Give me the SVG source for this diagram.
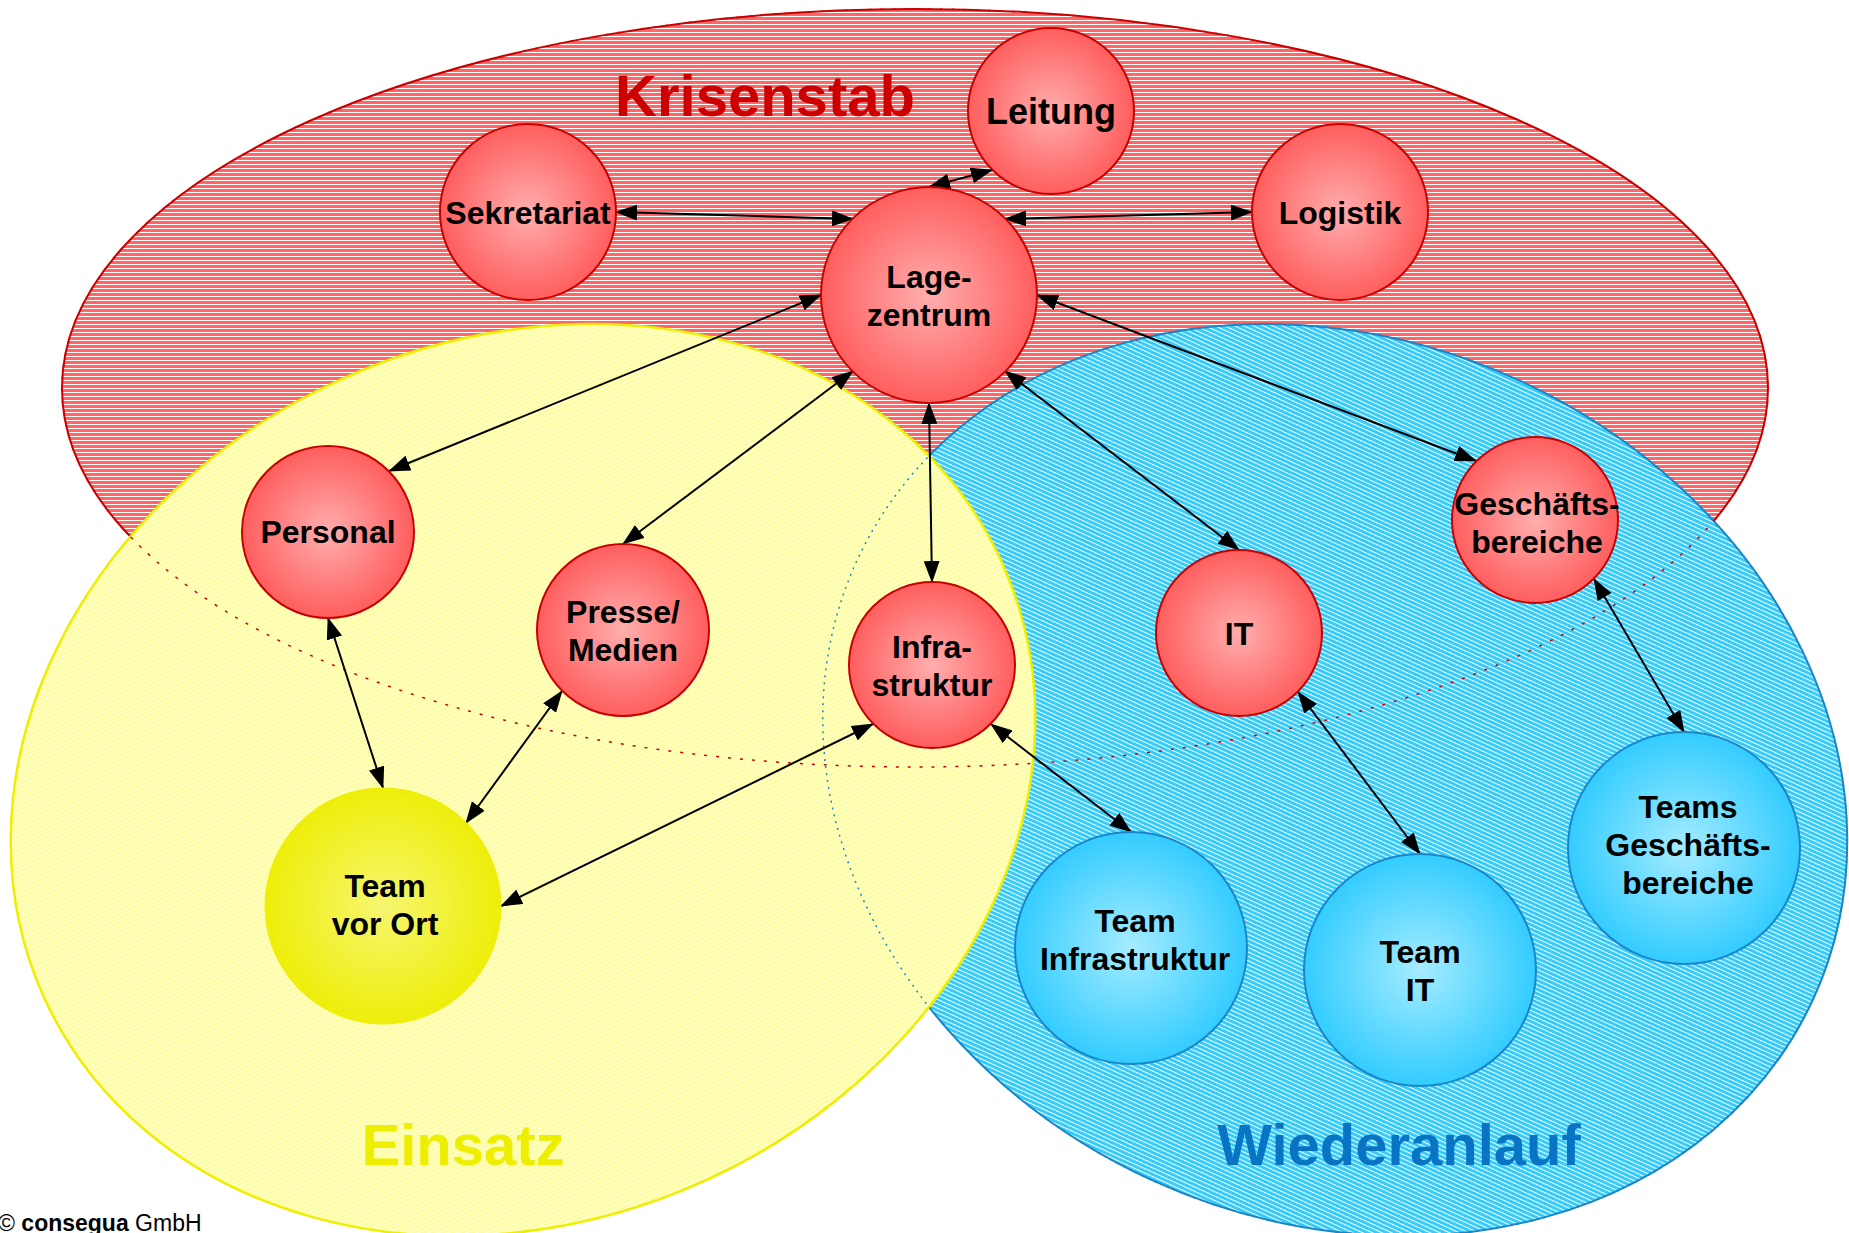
<svg xmlns="http://www.w3.org/2000/svg" width="1849" height="1233" viewBox="0 0 1849 1233">
<style>
.lbl{font-family:"Liberation Sans",Arial,sans-serif;font-weight:bold;font-size:32px;fill:#000;text-anchor:middle}
.title{font-family:"Liberation Sans",Arial,sans-serif;font-weight:bold;font-size:58px;text-anchor:middle}
.rn{fill:url(#gRed);stroke:#C80000;stroke-width:2}
.bn{fill:url(#gBlue);stroke:#1A86C8;stroke-width:2}
.yn{fill:url(#gYel);stroke:#EEEE00;stroke-width:1}
.con{stroke:#000;stroke-width:2;fill:none;marker-start:url(#ah);marker-end:url(#ah)}
</style>
<defs>
<pattern id="pRed" patternUnits="userSpaceOnUse" width="8" height="4"><rect width="8" height="4" fill="#FF6666"/><rect y="0" width="8" height="1" fill="#FFFFFF"/></pattern>
<pattern id="pYel" patternUnits="userSpaceOnUse" width="8" height="4"><rect width="8" height="4" fill="#FFFF99"/><rect y="0" width="8" height="1" fill="#FFFFFF"/></pattern>
<pattern id="pBlue" patternUnits="userSpaceOnUse" width="8" height="4"><rect width="8" height="4" fill="#33CCFF"/><rect y="0" width="8" height="1" fill="#FFFFFF"/></pattern>
<radialGradient id="gRed" cx="50%" cy="50%" r="50%"><stop offset="0" stop-color="#FFAEAE"/><stop offset="1" stop-color="#FF5E5E"/></radialGradient>
<radialGradient id="gBlue" cx="50%" cy="50%" r="50%"><stop offset="0" stop-color="#A6ECFF"/><stop offset="1" stop-color="#33CCFF"/></radialGradient>
<radialGradient id="gYel" cx="50%" cy="50%" r="50%"><stop offset="0" stop-color="#F6F670"/><stop offset="1" stop-color="#EEEE0A"/></radialGradient>
<marker id="ah" markerUnits="userSpaceOnUse" markerWidth="22" markerHeight="16" viewBox="0 0 22 16" refX="21" refY="8" orient="auto-start-reverse"><path d="M0,0 L22,8 L0,16 z" fill="#000"/></marker>
</defs>

<g id="areas">
<ellipse id="krisenstab-area" cx="915" cy="388" rx="853" ry="379" fill="url(#pRed)" stroke="#C80000" stroke-width="2"/>
<ellipse id="wiederanlauf-area" cx="1335" cy="780" rx="526" ry="440" transform="rotate(24.5 1335 780)" fill="url(#pBlue)" stroke="#1A86C8" stroke-width="2"/>
<ellipse id="einsatz-area" cx="523" cy="780" rx="526" ry="440" transform="rotate(-24.5 523 780)" fill="url(#pYel)" stroke="#EEEE00" stroke-width="2.5"/>
<ellipse cx="915" cy="388" rx="853" ry="379" fill="none" stroke="#CC0000" stroke-width="1.5" stroke-dasharray="3 9"/>
<ellipse cx="1335" cy="780" rx="526" ry="440" transform="rotate(24.5 1335 780)" fill="none" stroke="#1A86C8" stroke-width="1.5" stroke-dasharray="2 5"/>
<text class="title" x="765" y="116" fill="#CC0000">Krisenstab</text>
<text class="title" x="463" y="1165" fill="#EEEE00">Einsatz</text>
<text class="title" x="1399" y="1165" fill="#0A74C4">Wiederanlauf</text>
</g>

<g id="connectors">
<line class="con" x1="929" y1="187" x2="992" y2="170"/>
<line class="con" x1="616" y1="212" x2="853" y2="219"/>
<line class="con" x1="1005" y1="219" x2="1252" y2="212"/>
<line class="con" x1="821" y1="295" x2="389" y2="471"/>
<line class="con" x1="853" y1="371" x2="623" y2="544"/>
<line class="con" x1="929" y1="403" x2="932" y2="582"/>
<line class="con" x1="1005" y1="371" x2="1239" y2="550"/>
<line class="con" x1="1037" y1="295" x2="1476" y2="461"/>
<line class="con" x1="328" y1="618" x2="383" y2="788"/>
<line class="con" x1="562" y1="691" x2="466" y2="823"/>
<line class="con" x1="873" y1="724" x2="501" y2="906"/>
<line class="con" x1="991" y1="724" x2="1131" y2="832"/>
<line class="con" x1="1298" y1="692" x2="1420" y2="854"/>
<line class="con" x1="1594" y1="579" x2="1684" y2="732"/>
</g>

<g id="leitung"><circle class="rn" cx="1051" cy="111" r="83"/><text class="lbl" x="1051" y="124" style="font-size:36px">Leitung</text></g>
<g id="sekretariat"><circle class="rn" cx="528" cy="212" r="88"/><text class="lbl" x="528" y="224">Sekretariat</text></g>
<g id="logistik"><circle class="rn" cx="1340" cy="212" r="88"/><text class="lbl" x="1340" y="224">Logistik</text></g>
<g id="lagezentrum"><circle class="rn" cx="929" cy="295" r="108"/><text class="lbl" x="929" y="288">Lage-</text><text class="lbl" x="929" y="326">zentrum</text></g>
<g id="personal"><circle class="rn" cx="328" cy="532" r="86"/><text class="lbl" x="328" y="543">Personal</text></g>
<g id="presse"><circle class="rn" cx="623" cy="630" r="86"/><text class="lbl" x="623" y="623">Presse/</text><text class="lbl" x="623" y="661">Medien</text></g>
<g id="infrastruktur"><circle class="rn" cx="932" cy="665" r="83"/><text class="lbl" x="932" y="658">Infra-</text><text class="lbl" x="932" y="696">struktur</text></g>
<g id="it"><circle class="rn" cx="1239" cy="633" r="83"/><text class="lbl" x="1239" y="645">IT</text></g>
<g id="geschaeftsbereiche"><circle class="rn" cx="1535" cy="520" r="83"/><text class="lbl" x="1537" y="515">Geschäfts-</text><text class="lbl" x="1537" y="553">bereiche</text></g>
<g id="team-vor-ort"><circle class="yn" cx="383" cy="906" r="118"/><text class="lbl" x="385" y="897">Team</text><text class="lbl" x="385" y="935">vor Ort</text></g>
<g id="team-infrastruktur"><circle class="bn" cx="1131" cy="948" r="116"/><text class="lbl" x="1135" y="932">Team</text><text class="lbl" x="1135" y="970">Infrastruktur</text></g>
<g id="team-it"><circle class="bn" cx="1420" cy="970" r="116"/><text class="lbl" x="1420" y="963">Team</text><text class="lbl" x="1420" y="1001">IT</text></g>
<g id="teams-geschaeftsbereiche"><circle class="bn" cx="1684" cy="848" r="116"/><text class="lbl" x="1688" y="818">Teams</text><text class="lbl" x="1688" y="856">Geschäfts-</text><text class="lbl" x="1688" y="894">bereiche</text></g>

<text x="-2" y="1231" font-family="'Liberation Sans',Arial,sans-serif" font-size="23" fill="#000">© <tspan font-weight="bold">consegua</tspan> GmbH</text>
</svg>
